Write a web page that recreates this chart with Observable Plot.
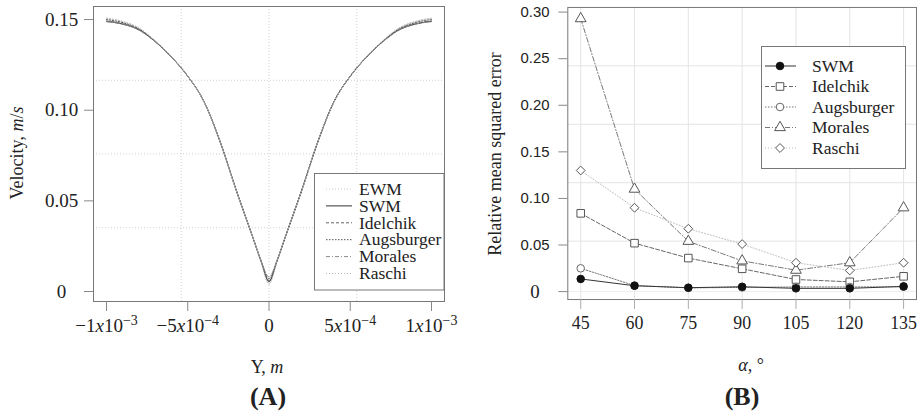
<!DOCTYPE html>
<html>
<head>
<meta charset="utf-8">
<script src="https://cdn.jsdelivr.net/npm/d3@7"></script>
<script src="https://cdn.jsdelivr.net/npm/@observablehq/plot@0.6"></script>
<style>
  html, body { margin: 0; padding: 0; background: #fff; }
  #wrap { position: relative; width: 917px; height: 413px; overflow: hidden;
          font-family: "Liberation Serif", "Times New Roman", serif; color: #222; }
  .panel { position: absolute; top: 0; }
  .t { position: absolute; white-space: nowrap; font-size: 18px; line-height: 1;
       transform: translate(-50%, -50%); }
  .big { font-size: 26px; font-weight: bold; }
</style>
</head>
<body>
<div id="wrap">
  <div id="pa" class="panel" style="left:0px"></div>
  <div id="pb" class="panel" style="left:460px"></div>
  <div class="t" style="left:17px;top:153px;transform:translate(-50%,-50%) rotate(-90deg)">Velocity, <i>m</i>/<i>s</i></div>
  <div class="t" style="left:495px;top:154px;transform:translate(-50%,-50%) rotate(-90deg)">Relative mean squared error</div>
  <div class="t" style="left:267px;top:367px">Y, <i>m</i></div>
  <div class="t" style="left:751px;top:365px"><i>α</i>, °</div>
  <div class="t big" style="left:268px;top:397px">(A)</div>
  <div class="t big" style="left:742px;top:397px">(B)</div>
</div>
<script>
// ---------------- Data: panel A (velocity profiles) ----------------
const yPos = [-1.0e-3,-0.9e-3,-0.8e-3,-0.7e-3,-0.6e-3,-0.5e-3,-0.4e-3,-0.3e-3,-0.2e-3,-0.1e-3,-0.05e-3,0,
              0.05e-3,0.1e-3,0.2e-3,0.3e-3,0.4e-3,0.5e-3,0.6e-3,0.7e-3,0.8e-3,0.9e-3,1.0e-3];
const velEWM        = [0.1505,0.1488,0.1452,0.1382,0.1295,0.1188,0.1046,0.0822,0.0552,0.0298,0.0168,0.0045,
                       0.0168,0.0298,0.0552,0.0822,0.1046,0.1188,0.1295,0.1382,0.1452,0.1488,0.1505];
const velSWM        = [0.1490,0.1475,0.1443,0.1378,0.1293,0.1188,0.1048,0.0825,0.0555,0.0300,0.0170,0.0055,
                       0.0170,0.0300,0.0555,0.0825,0.1048,0.1188,0.1293,0.1378,0.1443,0.1475,0.1490];
const velIdelchik   = [0.1492,0.1477,0.1445,0.1379,0.1293,0.1187,0.1047,0.0824,0.0554,0.0300,0.0172,0.0070,
                       0.0172,0.0300,0.0554,0.0824,0.1047,0.1187,0.1293,0.1379,0.1445,0.1477,0.1492];
const velAugsburger = [0.1500,0.1483,0.1448,0.1380,0.1294,0.1188,0.1047,0.0823,0.0553,0.0299,0.0170,0.0060,
                       0.0170,0.0299,0.0553,0.0823,0.1047,0.1188,0.1294,0.1380,0.1448,0.1483,0.1500];
const velMorales    = [0.1488,0.1474,0.1442,0.1377,0.1292,0.1187,0.1048,0.0826,0.0556,0.0302,0.0175,0.0080,
                       0.0175,0.0302,0.0556,0.0826,0.1048,0.1187,0.1292,0.1377,0.1442,0.1474,0.1488];
const velRaschi     = [0.1508,0.1490,0.1454,0.1383,0.1296,0.1189,0.1046,0.0821,0.0551,0.0297,0.0166,0.0040,
                       0.0166,0.0297,0.0551,0.0821,0.1046,0.1189,0.1296,0.1383,0.1454,0.1490,0.1508];
const xTicksA = [-1e-3, -5e-4, 0, 5e-4, 1e-3];
const xTickLabelsA = ["−1x10^−3", "−5x10^−4", "0", "5x10^−4", "1x10^−3"];
const yTicksA = [0, 0.05, 0.10, 0.15];
const yTickLabelsA = ["0", "0.05", "0.10", "0.15"];
const gridXA = [-0.54e-3, 0, 0.54e-3];
const gridYA = [0.0352, 0.0759, 0.1165];

// ---------------- Data: panel B (relative mean squared error) ----------------
const alphaDeg      = [45, 60, 75, 90, 105, 120, 135];
const errSWM        = [0.0136, 0.0063, 0.0042, 0.0052, 0.0035, 0.0035, 0.0056];
const errIdelchik   = [0.084, 0.052, 0.036, 0.0245, 0.013, 0.0105, 0.0164];
const errAugsburger = [0.025, 0.0065, 0.0040, 0.0045, 0.0050, 0.0050, 0.0052];
const errMorales    = [0.293, 0.110, 0.054, 0.033, 0.023, 0.031, 0.090];
const errRaschi     = [0.130, 0.090, 0.0675, 0.051, 0.031, 0.0227, 0.031];
const xTicksB = [45, 60, 75, 90, 105, 120, 135];
const yTicksBSans = [0.05, 0.10, 0.15, 0.20, 0.25, 0.30];
const yTicksBSerif = [0];
const gridYB = [0.0542, 0.1169, 0.1796, 0.2423];

// ---------------- Panel A ----------------
const seriesA = [
  {name: "EWM",        values: velEWM,        stroke: "#c8c8c8", dash: "1,2"},
  {name: "SWM",        values: velSWM,        stroke: "#333333", dash: null},
  {name: "Idelchik",   values: velIdelchik,   stroke: "#666666", dash: "3,2"},
  {name: "Augsburger", values: velAugsburger, stroke: "#555555", dash: "1.5,1.5"},
  {name: "Morales",    values: velMorales,    stroke: "#888888", dash: "4,2,1,2"},
  {name: "Raschi",     values: velRaschi,     stroke: "#bbbbbb", dash: "1,2"}
];
const linesA = seriesA.map(s => Plot.line(
  yPos.map((x, i) => ({x, v: s.values[i]})),
  {x: "x", y: "v", curve: "monotone-x", stroke: s.stroke, strokeWidth: 1, strokeDasharray: s.dash || undefined}
));

const plotA = Plot.plot({
  width: 460, height: 413,
  marginLeft: 93, marginRight: 16, marginTop: 6, marginBottom: 112,
  style: {fontFamily: "Liberation Serif, serif", fontSize: "18px", color: "#222", background: "transparent", overflow: "visible"},
  x: {domain: [-1.08e-3, 1.08e-3]},
  y: {domain: [-0.0055, 0.1572]},
  marks: [
    Plot.ruleX(gridXA, {stroke: "#d0d0d0", strokeDasharray: "1,2"}),
    Plot.ruleY(gridYA, {stroke: "#d0d0d0", strokeDasharray: "1,2"}),
    ...linesA,
    Plot.frame({stroke: "#777"}),
    Plot.axisY(yTicksA, {anchor: "left", tickSize: 9, tickPadding: 23, textAnchor: "middle", stroke: "#888",
      fill: "#222", fontSize: 19, label: null, tickFormat: d => yTickLabelsA[yTicksA.indexOf(d)]}),
    Plot.axisX(xTicksA, {anchor: "bottom", tickSize: 10, tickPadding: 7, stroke: "#888", fill: "#222",
      fontSize: 19, label: null, tickFormat: d => xTickLabelsA[xTicksA.indexOf(d)]})
  ]
});
document.getElementById("pa").appendChild(plotA);

// superscripts for x tick labels of panel A
plotA.querySelectorAll('g[aria-label="x-axis tick label"] text').forEach(t => {
  const s = t.textContent;
  if (!s.includes("^")) return;
  const [base, exp] = s.split("^");
  const [mant] = base.split("x10");
  t.textContent = "";
  const ns = "http://www.w3.org/2000/svg";
  const add = (txt, attrs) => { const e = document.createElementNS(ns, "tspan"); e.textContent = txt;
    for (const k in attrs) e.setAttribute(k, attrs[k]); t.appendChild(e); return e; };
  add(mant, {});
  add("x", {"font-style": "italic"});
  add("10", {});
  add(exp, {"font-size": "14", dy: "-7"});
});

// ---------------- Panel B ----------------
const seriesB = [
  {name: "SWM",        values: errSWM,        stroke: "#333333", dash: null,      symbol: "circle",   r: 3.8, fill: "#111", sym: "#111"},
  {name: "Idelchik",   values: errIdelchik,   stroke: "#666666", dash: "4,2",     symbol: "square",   r: 4.3, fill: "white", sym: "#555"},
  {name: "Augsburger", values: errAugsburger, stroke: "#777777", dash: "1.5,1.5", symbol: "circle",   r: 3.8, fill: "white", sym: "#666"},
  {name: "Morales",    values: errMorales,    stroke: "#777777", dash: "5,2,1,2", symbol: "triangle", r: 4.0, fill: "white", sym: "#555"},
  {name: "Raschi",     values: errRaschi,     stroke: "#bbbbbb", dash: "1,2",     symbol: "diamond2", r: 4.0, fill: "white", sym: "#555"}
];
const drawOrder = [3, 4, 1, 2, 0];
const marksB = [];
drawOrder.forEach(k => {
  const s = seriesB[k];
  const d = alphaDeg.map((a, i) => ({a, v: s.values[i]}));
  marksB.push(Plot.line(d, {x: "a", y: "v", stroke: s.stroke, strokeWidth: 1, strokeDasharray: s.dash || undefined}));
});
drawOrder.forEach(k => {
  const s = seriesB[k];
  const d = alphaDeg.map((a, i) => ({a, v: s.values[i]}));
  marksB.push(Plot.dot(d, {x: "a", y: "v", symbol: s.symbol, r: s.r, fill: s.fill, stroke: s.sym, strokeWidth: 1}));
});

const plotB = Plot.plot({
  width: 460, height: 413,
  marginLeft: 108, marginRight: 1, marginTop: 7, marginBottom: 112,
  style: {fontFamily: "Liberation Serif, serif", fontSize: "18px", color: "#222", background: "transparent", overflow: "visible"},
  x: {domain: [41.4, 138.6]},
  y: {domain: [-0.0085, 0.305]},
  marks: [
    Plot.ruleX(xTicksB, {stroke: "#e4e4e4"}),
    Plot.ruleY(gridYB, {stroke: "#e4e4e4"}),
    Plot.ruleY([0], {stroke: "#ececec"}),
    ...marksB,
    Plot.frame({stroke: "#777"}),
    Plot.axisY(yTicksBSans, {anchor: "left", tickSize: 9, tickPadding: 24, textAnchor: "middle", stroke: "#888",
      fill: "#222", fontSize: 15, fontFamily: "Liberation Sans, Arial, sans-serif", label: null, tickFormat: d => d.toFixed(2)}),
    Plot.axisY(yTicksBSerif, {anchor: "left", tickSize: 9, tickPadding: 24, textAnchor: "middle", stroke: "#888",
      fill: "#222", fontSize: 19, label: null, tickFormat: d => "0"}),
    Plot.axisX(xTicksB, {anchor: "bottom", tickSize: 10, tickPadding: 7, stroke: "#aaa", fill: "#222",
      fontSize: 18, label: null, tickFormat: d => String(d)})
  ]
});
document.getElementById("pb").appendChild(plotB);

// ---------------- Legends (overlay) ----------------
const ov = d3.select("#wrap").append("svg")
  .attr("width", 917).attr("height", 413)
  .style("position", "absolute").style("left", "0px").style("top", "0px")
  .style("font-family", "Liberation Serif, serif").style("font-size", "17.5px");

// legend A
ov.append("rect").attr("x", 314.5).attr("y", 173.5).attr("width", 129.5).attr("height", 116.5)
  .attr("fill", "white").attr("stroke", "#777");
seriesA.forEach((s, i) => {
  const cy = 189 + i * 16.9;
  ov.append("line").attr("x1", 326).attr("x2", 352).attr("y1", cy).attr("y2", cy)
    .attr("stroke", s.stroke).attr("stroke-width", 1).attr("stroke-dasharray", s.dash);
  ov.append("text").attr("x", 359).attr("y", cy).attr("dy", "0.33em").attr("fill", "#222").text(s.name);
});

// legend B
ov.append("rect").attr("x", 761.5).attr("y", 46.5).attr("width", 144).attr("height", 122)
  .attr("fill", "white").attr("stroke", "#777");
const symMap = {circle: d3.symbolCircle, square: d3.symbolSquare, triangle: d3.symbolTriangle, diamond2: d3.symbolDiamond2};
seriesB.forEach((s, i) => {
  const cy = 66 + i * 20.5;
  ov.append("line").attr("x1", 765).attr("x2", 796).attr("y1", cy).attr("y2", cy)
    .attr("stroke", s.stroke).attr("stroke-width", 1).attr("stroke-dasharray", s.dash);
  ov.append("path").attr("transform", `translate(780,${cy})`)
    .attr("d", d3.symbol(symMap[s.symbol], Math.PI * s.r * s.r)())
    .attr("fill", s.fill).attr("stroke", s.sym);
  ov.append("text").attr("x", 812).attr("y", cy).attr("dy", "0.33em").attr("fill", "#222").text(s.name);
});
</script>
</body>
</html>
